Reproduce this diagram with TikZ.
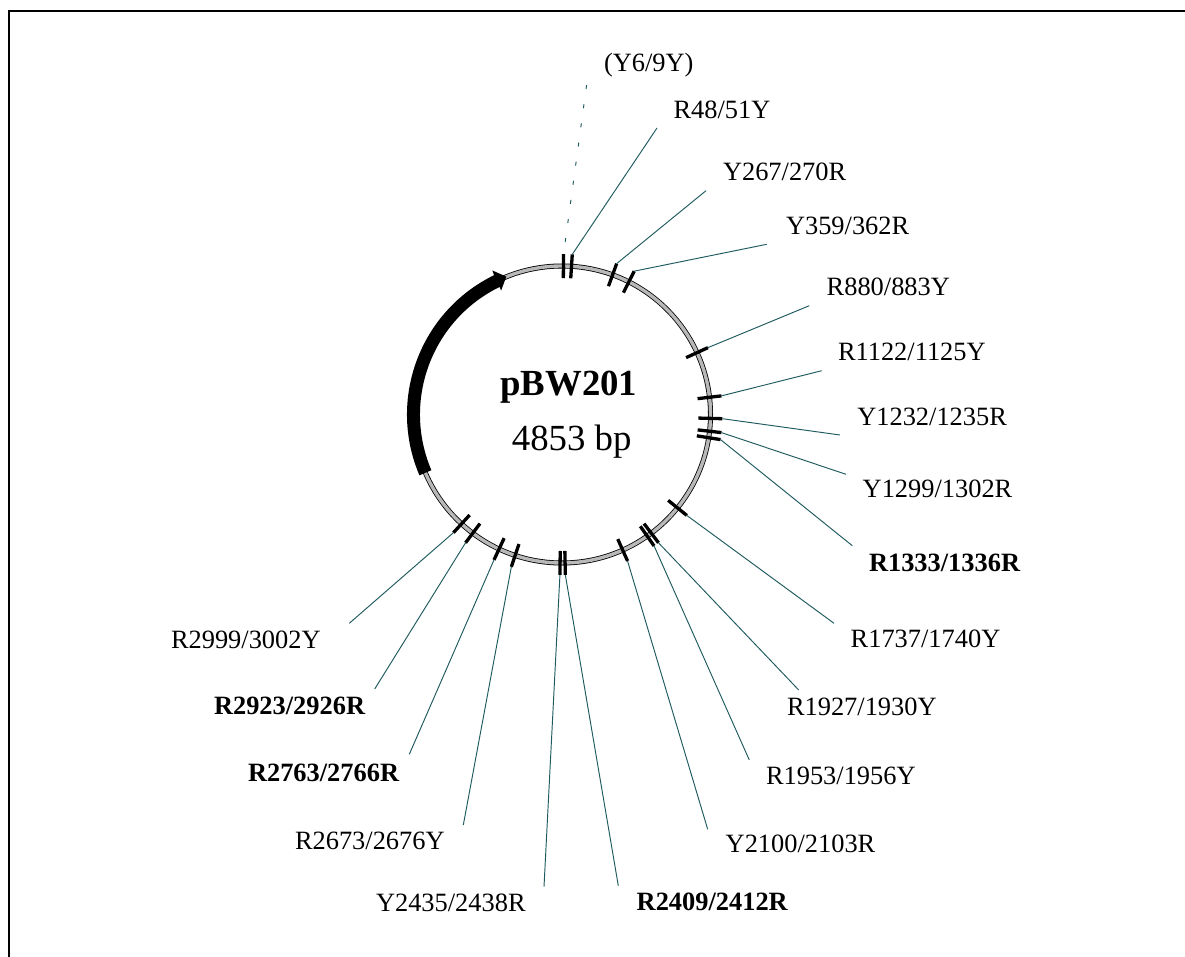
\documentclass[tikz,border=0pt]{standalone}
\usepackage{fontspec}
\setmainfont{Liberation Serif}
\usetikzlibrary{calc}
\newcommand{\lblfont}{\fontsize{26.4pt}{29pt}\selectfont}
\newcommand{\ttlfont}{\fontsize{36.8pt}{40pt}\selectfont}
\definecolor{conncol}{HTML}{1F5A5F}
\tikzset{
  frameline/.style={black,line width=1.8pt},
  conn/.style={draw=conncol,line width=0.95pt},
  connd/.style={conn,dash pattern=on 4pt off 15.3pt,dash phase=7.3pt},
  tickmark/.style={black,line width=3.3pt},
  lbl/.style={anchor=base west,inner sep=0pt,outer sep=0pt,font=\lblfont},
  lblb/.style={lbl,font=\lblfont\bfseries},
  ttl/.style={anchor=base,inner sep=0pt,outer sep=0pt,font=\ttlfont},
}
% site: name, bp position, connector free end, label position, style, connector style, text
\newcommand{\site}[7]{%
  \pgfmathsetmacro{\ang}{#2/4853*360-90}
  \coordinate (t#1i) at ($(c)+(\ang:136.5)$);
  \coordinate (t#1o) at ($(c)+(\ang:160.5)$);
  \draw[tickmark] (t#1i) -- (t#1o);
  \coordinate (e#1) at #3;
  \draw[#6] (t#1o) -- (e#1);
  \node[#5] (l#1) at #4 {#7};
}
\begin{document}
\begin{tikzpicture}[x=1pt,y=-1pt]
\useasboundingbox (0,0) rectangle (1185,957);
\coordinate (fa) at (9,957);
\coordinate (fb) at (9,11);
\coordinate (fc) at (1185,11);
\draw[frameline] (fa) -- (fb) -- (fc);
\coordinate (c) at (562,414.5);
% ring
\draw[black,line width=5pt] (c) circle (148.5);
\draw[black!28,line width=3.4pt] (c) circle (148.5);
% gene arrow
\fill[black] ($(c)+(246.9-90:142)$) arc[start angle=246.9-90,end angle=334-90,radius=142]
  -- ($(c)+(333.8-90:138)$) -- ($(c)+(338-90:148.7)$) -- ($(c)+(334.2-90:160)$) -- ($(c)+(334-90:155)$)
  arc[start angle=334-90,end angle=246.9-90,radius=155] -- cycle;
\site{a}{7.5}{(587,82)}{(604,71.7)}{lbl}{connd}{(Y6/9Y)}
\site{b}{49.5}{(657,128)}{(673.5,118.3)}{lbl}{conn}{R48/51Y}
\site{c1}{268.5}{(706,190.7)}{(723,181)}{lbl}{conn}{Y267/270R}
\site{d}{360.5}{(766.7,244.3)}{(786,235)}{lbl}{conn}{Y359/362R}
\site{e}{881.5}{(809.3,305.7)}{(826.7,296)}{lbl}{conn}{R880/883Y}
\site{f}{1123.5}{(821.7,370.7)}{(838,360.7)}{lbl}{conn}{R1122/1125Y}
\site{g}{1233.5}{(840,435)}{(857.3,425)}{lbl}{conn}{Y1232/1235R}
\site{h}{1300.5}{(846,474.3)}{(862.7,497.7)}{lbl}{conn}{Y1299/1302R}
\site{i}{1334.5}{(852.3,545.7)}{(869,571.7)}{lblb}{conn}{R1333/1336R}
\site{j}{1738.5}{(834,623.3)}{(850.7,647.3)}{lbl}{conn}{R1737/1740Y}
\site{k}{1928.5}{(798.7,690)}{(787,715)}{lbl}{conn}{R1927/1930Y}
\site{m}{1954.5}{(749.3,760)}{(766,784)}{lbl}{conn}{R1953/1956Y}
\site{n}{2101.5}{(707.7,829.3)}{(725.7,852.7)}{lbl}{conn}{Y2100/2103R}
\site{o}{2410.5}{(618.3,885.7)}{(636.7,910)}{lblb}{conn}{R2409/2412R}
\site{p}{2436.5}{(544,886.7)}{(376,911)}{lbl}{conn}{Y2435/2438R}
\site{q}{2674.5}{(463.3,825)}{(295,849.3)}{lbl}{conn}{R2673/2676Y}
\site{r}{2764.5}{(409.3,754.3)}{(248,781.7)}{lblb}{conn}{R2763/2766R}
\site{s}{2924.5}{(374.7,689)}{(214,714.3)}{lblb}{conn}{R2923/2926R}
\site{u}{3000.5}{(349.3,623.3)}{(171,648)}{lbl}{conn}{R2999/3002Y}
\node[ttl,font=\ttlfont\bfseries] (name) at (568.7,395.7) {pBW201};
\node[ttl] (size) at (571.7,450.7) {4853 bp};
\end{tikzpicture}
\end{document}
